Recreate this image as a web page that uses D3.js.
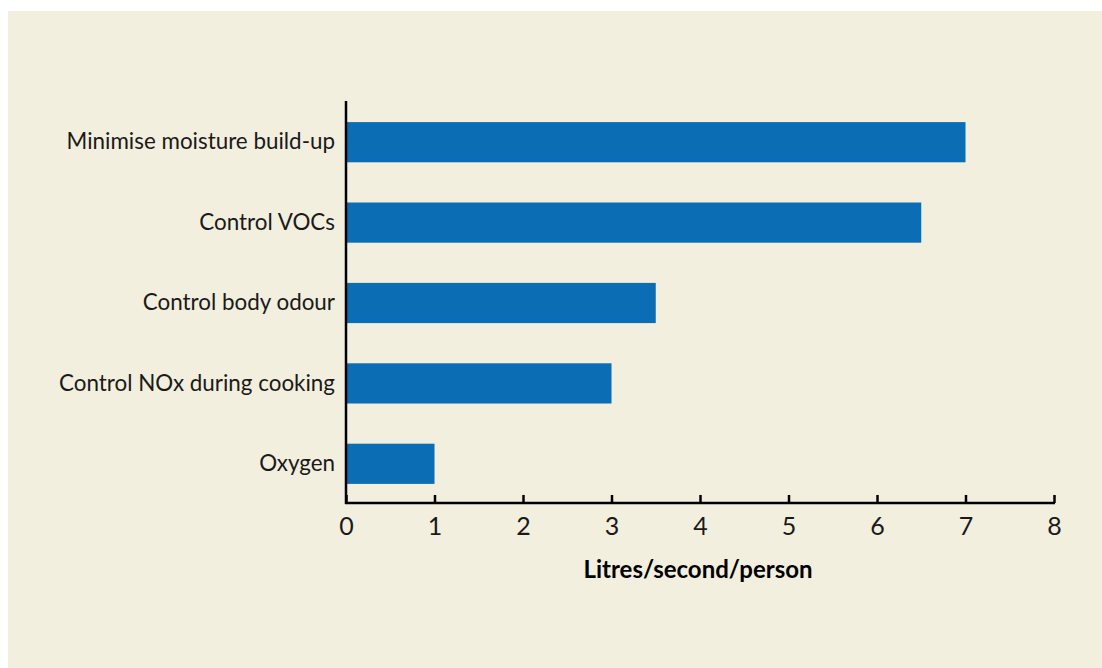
<!DOCTYPE html>
<html><head><meta charset="utf-8">
<script src="https://cdn.jsdelivr.net/npm/d3@7"></script>
<style>body{margin:0;background:#fff;}svg{display:block;}</style>
</head><body><svg id="c" width="1102" height="668"></svg>
<script>
const categories = ["Minimise moisture build-up","Control VOCs","Control body odour","Control NOx during cooking","Oxygen"];
const values = [7, 6.5, 3.5, 3, 1];
const xTicks = [0,1,2,3,4,5,6,7,8];
const xTitle = "Litres/second/person";

const svg = d3.select("#c");
svg.append("rect").attr("x",8).attr("y",11).attr("width",1094).attr("height",657).attr("fill","#f2efde");
const x = d3.scaleLinear().domain([0,8]).range([346,1054]);
const y = d3.scaleBand().domain(categories).range([102,504]).paddingInner(0.5).paddingOuter(0.25);
const font = "Lato, sans-serif";

svg.selectAll(".bar").data(values).join("rect")
  .attr("x", x(0)).attr("y",(d,i)=>y(categories[i]))
  .attr("width", d=>x(d)-x(0)).attr("height", y.bandwidth())
  .attr("fill","#0b6db4");

// axes
const xa = svg.append("g").attr("transform","translate(0,503)")
  .call(d3.axisBottom(x).tickValues(xTicks).tickSize(-8).tickPadding(14).tickFormat(d3.format("d")));
xa.select(".domain").remove();
xa.append("line").attr("x1",345).attr("x2",1055).attr("stroke","#000").attr("stroke-width",2.5);
xa.selectAll(".tick line").attr("stroke","#000").attr("stroke-width",2.5);
xa.selectAll(".tick text").attr("font-family",font).attr("font-size",25).attr("fill","#1a1a1a").attr("dy","0.71em");

const ya = svg.append("g").attr("transform","translate(346,0)")
  .call(d3.axisLeft(y).tickSize(0).tickPadding(11));
ya.select(".domain").remove();
ya.append("line").attr("y1",101).attr("y2",504).attr("stroke","#000").attr("stroke-width",2.5);
ya.selectAll(".tick text").attr("font-family",font).attr("font-size",22.4).attr("fill","#1a1a1a");

svg.append("text").attr("x",698).attr("y",578).attr("text-anchor","middle")
  .attr("font-family",font).attr("font-weight","bold").attr("font-size",24).attr("fill","#000").text(xTitle);
</script></body></html>
